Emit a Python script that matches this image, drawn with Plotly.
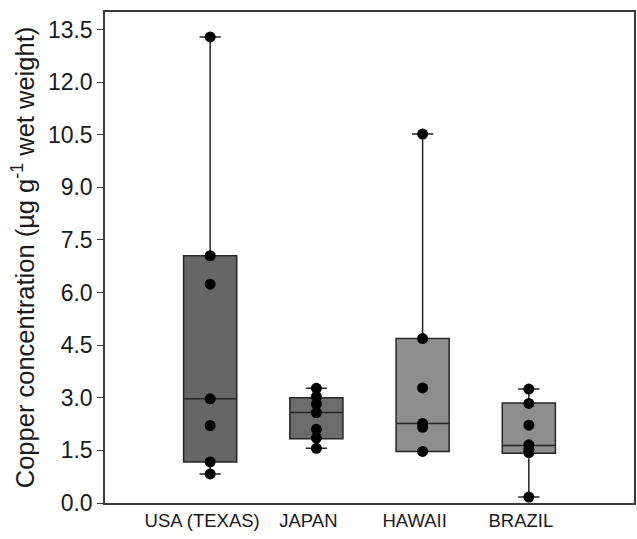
import plotly.graph_objects as go

categories = ["USA (TEXAS)", "JAPAN", "HAWAII", "BRAZIL"]

# individual observations (µg g-1 wet weight)
texas_vals = [0.83, 1.17, 2.21, 2.97, 6.24, 7.05, 13.29]
japan_vals = [1.56, 1.85, 2.10, 2.58, 2.82, 3.03, 3.27]
hawaii_vals = [1.47, 2.16, 2.27, 3.28, 4.69, 10.52]
brazil_vals = [0.17, 1.44, 1.53, 1.66, 2.22, 2.84, 3.25]

# box statistics as drawn
q1_vals = [1.17, 1.83, 1.47, 1.42]
median_vals = [2.97, 2.58, 2.27, 1.64]
q3_vals = [7.05, 3.00, 4.69, 2.85]
lower_vals = [0.83, 1.56, 1.47, 0.17]
upper_vals = [13.29, 3.27, 10.52, 3.25]

box_colors = ["#666666", "#6c6c6c", "#8e8e8e", "#8e8e8e"]
y_ticks = [0.0, 1.5, 3.0, 4.5, 6.0, 7.5, 9.0, 10.5, 12.0, 13.5]

point_sets = [texas_vals, japan_vals, hawaii_vals, brazil_vals]

FONT = "Liberation Sans, Arial, sans-serif"

fig = go.Figure()
for i, cat in enumerate(categories):
    fig.add_trace(go.Box(
        x=[cat],
        q1=[q1_vals[i]], median=[median_vals[i]], q3=[q3_vals[i]],
        lowerfence=[lower_vals[i]], upperfence=[upper_vals[i]],
        boxpoints=False,
        fillcolor=box_colors[i],
        line=dict(color="#262626", width=1.5),
        width=0.5,
        whiskerwidth=0.4,
        showlegend=False,
        hoverinfo="skip",
    ))
for i, cat in enumerate(categories):
    fig.add_trace(go.Scatter(
        x=[cat] * len(point_sets[i]),
        y=point_sets[i],
        mode="markers",
        marker=dict(color="black", size=11),
        showlegend=False,
    ))

fig.update_layout(
    template="none",
    width=637, height=539,
    margin=dict(l=105, r=3, t=12, b=36),
    paper_bgcolor="white", plot_bgcolor="white",
    font=dict(family=FONT, color="#1a1a1a"),
)
fig.update_xaxes(
    type="category",
    automargin=False,
    range=[-0.99, 3.99],
    showline=True, mirror=True, linecolor="#3a3a3a", linewidth=1.5,
    ticks="", showgrid=False, zeroline=False,
    tickfont=dict(size=18.5, family=FONT, color="#1a1a1a"),
    ticklabelshift=-8,
)
fig.update_yaxes(
    automargin=False,
    range=[0, 14.0],
    tickvals=y_ticks,
    ticktext=[f"{v:.1f}" for v in y_ticks],
    ticks="outside", ticklen=6, tickcolor="#3a3a3a", tickwidth=1.2,
    showline=True, mirror=True, linecolor="#3a3a3a", linewidth=1.5,
    showgrid=False, zeroline=False,
    tickfont=dict(size=23, family=FONT, color="#1a1a1a"),
    title=dict(text="Copper concentration (µg g<sup>-1</sup> wet weight)",
               font=dict(size=25.5, family=FONT, color="#1a1a1a"),
               standoff=6),
)

fig.write_html(
    "out.html",
    config={"displayModeBar": False},
    post_script="document.body.style.margin='0';document.body.style.overflow='hidden';",
)
